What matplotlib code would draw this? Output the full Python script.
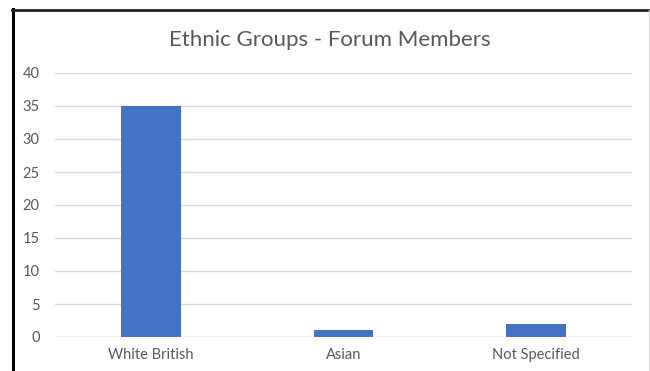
import matplotlib
matplotlib.use("Agg")
import matplotlib.pyplot as plt
from matplotlib.lines import Line2D
import numpy as np

categories = ["White British", "Asian", "Not Specified"]
members = [35, 1, 2]
y_ticks = [0, 5, 10, 15, 20, 25, 30, 35, 40]

BAR = "#4472C4"
TXT = "#595959"
GRID = "#D9D9D9"

plt.rcParams["font.family"] = ["Lato", "DejaVu Sans"]

fig = plt.figure(figsize=(6.5, 3.71), dpi=100)
W, H = 650, 371
# plot area in pixels: x 55..632, y 73 (top, 40) .. 337 (bottom, 0)
ax = fig.add_axes([55 / W, 1 - 337 / H, (632 - 55) / W, (337 - 73) / H])

x = np.arange(len(categories))
ax.bar(x, members, width=0.31, color=BAR, zorder=3)
ax.set_xlim(-0.5, len(categories) - 0.5)
ax.set_ylim(0, 40)
ax.set_yticks(y_ticks)
ax.set_xticks(x)
ax.set_xticklabels(categories)
ax.tick_params(axis="both", length=0, colors=TXT, labelsize=10.5)
ax.tick_params(axis="y", pad=11)
ax.tick_params(axis="x", pad=8)
ax.grid(axis="y", color=GRID, lw=1, zorder=0)
for sp in ax.spines.values():
    sp.set_visible(False)
ax.axhline(0, color=GRID, lw=1, zorder=2)

fig.text(330 / W, 1 - 40 / H, "Ethnic Groups - Forum Members", ha="center",
         va="center", fontsize=16, color=TXT)

# chart frame
fig.add_artist(Line2D([12.5 / W, 12.5 / W], [0, 1 - 9 / H], color="black", lw=2.2,
                      transform=fig.transFigure))
fig.add_artist(Line2D([12 / W, 1], [1 - 9.5 / H, 1 - 9.5 / H], color="#222222", lw=2,
                      transform=fig.transFigure))
fig.add_artist(Line2D([649 / W, 649 / W], [0, 1 - 10 / H], color="#DDDDDD", lw=1,
                      transform=fig.transFigure))

fig.savefig("out.png", dpi=100)
